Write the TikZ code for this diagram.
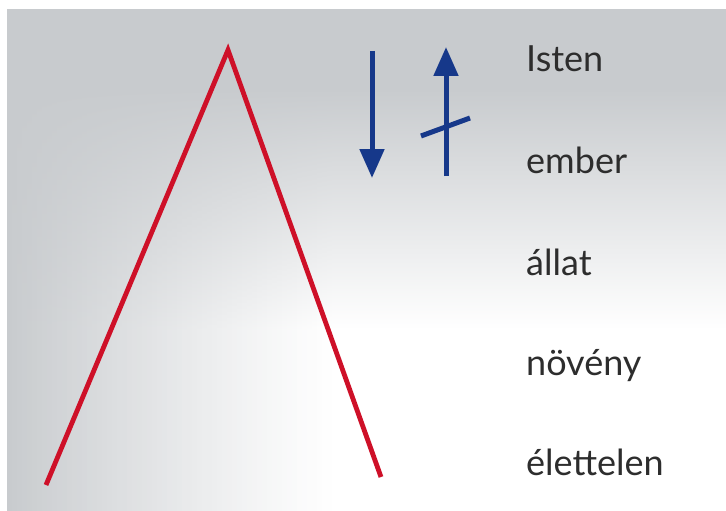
\documentclass[tikz,border=0pt]{standalone}
\usepackage{fontspec}
\setmainfont{Lato}
\usepackage{tikz}
\usetikzlibrary{
    arrows.meta
}
\usepackage{xcolor}
\definecolor{bggray}{RGB}{200,203,206}
\definecolor{peakred}{RGB}{206,16,40}
\definecolor{navyblue}{RGB}{22,56,138}
\definecolor{labelgray}{RGB}{45,45,45}
\tikzstyle{peak} = [
    line width=4.8pt,
    draw=peakred,
    line join=miter
]
\tikzstyle{bluearrow} = [
    -{Triangle[width=24pt,length=29pt]},
    line width=5pt,
    draw=navyblue
]
\tikzstyle{level} = [
    anchor=base west,
    inner sep=0pt,
    text=labelgray,
    font=\fontsize{36}{40}\selectfont
]

\begin{document}
\begin{tikzpicture}[x=1pt, y=-1pt]
    \useasboundingbox (0,0) rectangle (726,511);

    % Background
    \fill[white] (0,0) rectangle (726,511);
    \fill[bggray] (7,9) rectangle (726,90);
    \shade[top color=bggray, bottom color=white] (7,89) rectangle (726,330);
    % left vignette, strip by strip
    \foreach \i [evaluate=\i as \w using {int(100*(1-\i/66)^1.15)}] in {0,...,65}{
        \shade[top color=bggray, bottom color=bggray!\w!white] ({7+5*\i},89) rectangle ({12.6+5*\i},330);
        \fill[bggray!\w!white] ({7+5*\i},329.5) rectangle ({12.6+5*\i},511);
    }

    % Red peak
    \coordinate (leftfoot) at (46,485);
    \coordinate (apex) at (228,50);
    \coordinate (rightfoot) at (381,477);
    \draw[peak] (leftfoot) -- (apex) -- (rightfoot);

    % Arrows
    \coordinate (downtop) at (372,51);
    \coordinate (downtip) at (372,178);
    \coordinate (uptop) at (446,47);
    \coordinate (upfoot) at (446,176);
    \draw[bluearrow] (downtop) -- (downtip);
    \draw[bluearrow] (upfoot) -- (uptop);
    \coordinate (crossa) at (421,136);
    \coordinate (crossb) at (470,118);
    \draw[navyblue, line width=5pt] (crossa) -- (crossb);

    % Levels
    \node[level] (isten) at (526,71) {Isten};
    \node[level] (ember) at (526,173) {ember};
    \node[level] (allat) at (526,275) {állat};
    \node[level] (noveny) at (526,375) {növény};
    \node[level] (elettelen) at (526,475) {élettelen};
\end{tikzpicture}
\end{document}
